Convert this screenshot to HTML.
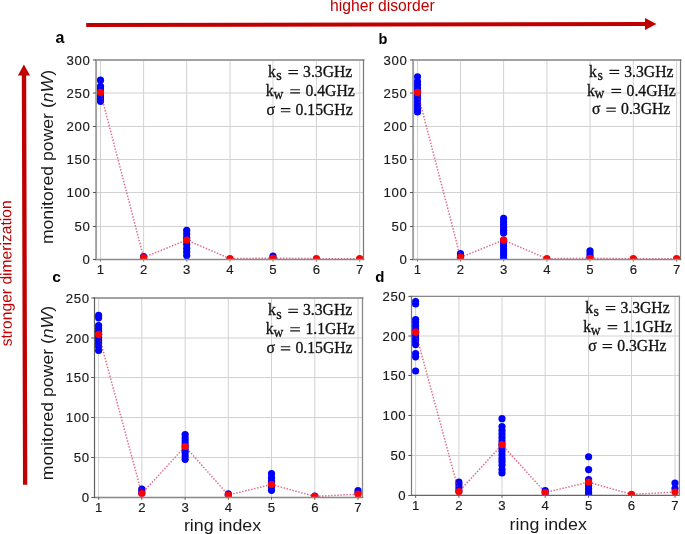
<!DOCTYPE html><html><head><meta charset="utf-8"><style>html,body{margin:0;padding:0;background:#fff;width:685px;height:534px;overflow:hidden}svg{display:block}#w{will-change:transform;width:685px;height:534px}</style></head><body><div id="w">
<svg width="685" height="534" viewBox="0 0 685 534">
<rect width="685" height="534" fill="#fff"/>
<defs>
<clipPath id="clipa"><rect x="96.1" y="60.0" width="267.40" height="199.45"/></clipPath>
<clipPath id="clipb"><rect x="413.1" y="60.0" width="267.40" height="199.45"/></clipPath>
<clipPath id="clipc"><rect x="94.5" y="298.0" width="268.00" height="199.45"/></clipPath>
<clipPath id="clipd"><rect x="411.5" y="296.4" width="267.90" height="199.05"/></clipPath>
</defs>
<path d="M100.50 60.0V259.45M143.60 60.0V259.45M186.70 60.0V259.45M230.00 60.0V259.45M273.00 60.0V259.45M316.40 60.0V259.45M359.70 60.0V259.45M96.1 259.50H363.5M96.1 226.50H363.5M96.1 192.50H363.5M96.1 159.50H363.5M96.1 126.50H363.5M96.1 93.00H363.5M96.1 60.00H363.5" stroke="#d2d2d2" stroke-width="1" fill="none"/>
<g clip-path="url(#clipa)">
<circle cx="100.50" cy="80.2" r="3.6" fill="#0000ff"/>
<circle cx="100.50" cy="86.3" r="3.6" fill="#0000ff"/>
<circle cx="100.50" cy="89" r="3.6" fill="#0000ff"/>
<circle cx="100.50" cy="91.5" r="3.6" fill="#0000ff"/>
<circle cx="100.50" cy="94" r="3.6" fill="#0000ff"/>
<circle cx="100.50" cy="97" r="3.6" fill="#0000ff"/>
<circle cx="100.50" cy="99" r="3.6" fill="#0000ff"/>
<circle cx="100.50" cy="101.3" r="3.6" fill="#0000ff"/>
<circle cx="143.60" cy="256.6" r="3.6" fill="#0000ff"/>
<circle cx="143.60" cy="258" r="3.6" fill="#0000ff"/>
<circle cx="186.70" cy="230.4" r="3.6" fill="#0000ff"/>
<circle cx="186.70" cy="234" r="3.6" fill="#0000ff"/>
<circle cx="186.70" cy="237.5" r="3.6" fill="#0000ff"/>
<circle cx="186.70" cy="240.5" r="3.6" fill="#0000ff"/>
<circle cx="186.70" cy="244.3" r="3.6" fill="#0000ff"/>
<circle cx="186.70" cy="248.3" r="3.6" fill="#0000ff"/>
<circle cx="186.70" cy="251.8" r="3.6" fill="#0000ff"/>
<circle cx="186.70" cy="255.4" r="3.6" fill="#0000ff"/>
<circle cx="230.00" cy="259.5" r="3.6" fill="#0000ff"/>
<circle cx="273.00" cy="256.0" r="3.6" fill="#0000ff"/>
<circle cx="273.00" cy="258.5" r="3.6" fill="#0000ff"/>
<circle cx="316.40" cy="259.5" r="3.6" fill="#0000ff"/>
<circle cx="359.70" cy="259.5" r="3.6" fill="#0000ff"/>
<polyline points="100.50,92.3 143.60,257.5 186.70,240.0 230.00,258.7 273.00,258.1 316.40,258.7 359.70,258.7" fill="none" stroke="#c81846" stroke-opacity="0.62" stroke-width="1.5" stroke-dasharray="1.5 1.55"/>
<circle cx="100.50" cy="92.3" r="3.6" fill="#ff0000"/>
<circle cx="143.60" cy="257.5" r="3.6" fill="#ff0000"/>
<circle cx="186.70" cy="240.0" r="3.6" fill="#ff0000"/>
<circle cx="230.00" cy="258.7" r="3.6" fill="#ff0000"/>
<circle cx="273.00" cy="258.1" r="3.6" fill="#ff0000"/>
<circle cx="316.40" cy="258.7" r="3.6" fill="#ff0000"/>
<circle cx="359.70" cy="258.7" r="3.6" fill="#ff0000"/>
</g>
<line x1="96.1" y1="60.0" x2="363.5" y2="60.0" stroke="#a2a2a2" stroke-width="2.0" stroke-linecap="square"/>
<line x1="96.1" y1="259.45" x2="363.5" y2="259.45" stroke="#8a8a8a" stroke-width="1.5" stroke-linecap="square"/>
<line x1="96.1" y1="60.0" x2="96.1" y2="259.45" stroke="#a0a0a0" stroke-width="1.9" stroke-linecap="square"/>
<line x1="363.5" y1="60.0" x2="363.5" y2="259.45" stroke="#777" stroke-width="1.2" stroke-linecap="square"/>
<path d="M96.1 259.50h-3.2M96.1 226.50h-3.2M96.1 192.50h-3.2M96.1 159.50h-3.2M96.1 126.50h-3.2M96.1 93.00h-3.2M96.1 60.00h-3.2" stroke="#555" stroke-width="1" fill="none"/>
<path d="M100.50 259.45v2.4M143.60 259.45v2.4M186.70 259.45v2.4M230.00 259.45v2.4M273.00 259.45v2.4M316.40 259.45v2.4M359.70 259.45v2.4" stroke="#8a8a8a" stroke-width="1.1" fill="none"/>
<g font-family='"Liberation Sans", sans-serif' font-size="13.2" fill="#1a1a1a" stroke="#1a1a1a" stroke-width="0.15">
<text x="90.40" y="264.30" text-anchor="end" letter-spacing="0.6">0</text>
<text x="90.40" y="231.30" text-anchor="end" letter-spacing="0.6">50</text>
<text x="90.40" y="197.30" text-anchor="end" letter-spacing="0.6">100</text>
<text x="90.40" y="164.30" text-anchor="end" letter-spacing="0.6">150</text>
<text x="90.40" y="131.30" text-anchor="end" letter-spacing="0.6">200</text>
<text x="90.40" y="97.80" text-anchor="end" letter-spacing="0.6">250</text>
<text x="90.40" y="64.80" text-anchor="end" letter-spacing="0.6">300</text>
<text x="100.50" y="274.05" text-anchor="middle">1</text>
<text x="143.60" y="274.05" text-anchor="middle">2</text>
<text x="186.70" y="274.05" text-anchor="middle">3</text>
<text x="230.00" y="274.05" text-anchor="middle">4</text>
<text x="273.00" y="274.05" text-anchor="middle">5</text>
<text x="316.40" y="274.05" text-anchor="middle">6</text>
<text x="359.70" y="274.05" text-anchor="middle">7</text>
</g>
<text x="55.6" y="42.6" font-family='"Liberation Sans", sans-serif' font-weight="bold" font-size="16.0" fill="#000">a</text>
<text transform="translate(53.2,157.05) rotate(-90)" text-anchor="middle" font-family='"Liberation Sans", sans-serif' font-size="16" fill="#1a1a1a" textLength="174.1" lengthAdjust="spacingAndGlyphs">monitored power (<tspan font-style="italic">nW</tspan>)</text>
<text x="267.95" y="76.70" font-family='"Liberation Serif", serif' font-size="15.7" fill="#111" stroke="#111" stroke-width="0.3">k</text><text x="276.25" y="80.00" font-family='"Liberation Serif", serif' font-size="14" fill="#111" stroke="#111" stroke-width="0.3">s</text><rect x="288.25" y="69.95" width="9.9" height="1.15" rx="0.5" fill="#141414"/><rect x="288.25" y="73.05" width="9.9" height="1.15" rx="0.5" fill="#141414"/><text x="303.05" y="76.70" font-family='"Liberation Serif", serif' font-size="15.7" fill="#111" stroke="#111" stroke-width="0.3">3.3GHz</text>
<text x="265.85" y="95.90" font-family='"Liberation Serif", serif' font-size="15.7" fill="#111" stroke="#111" stroke-width="0.3">k</text><text x="273.45" y="98.60" font-family='"Liberation Serif", serif' font-size="13.6" fill="#111" stroke="#111" stroke-width="0.3">w</text><rect x="290.15" y="89.15" width="9.9" height="1.15" rx="0.5" fill="#141414"/><rect x="290.15" y="92.25" width="9.9" height="1.15" rx="0.5" fill="#141414"/><text x="305.45" y="95.90" font-family='"Liberation Serif", serif' font-size="15.7" fill="#111" stroke="#111" stroke-width="0.3">0.4GHz</text>
<text x="266.55" y="114.80" font-family='"Liberation Serif", serif' font-size="15.7" fill="#111" stroke="#111" stroke-width="0.3">&#963;</text><rect x="280.75" y="108.05" width="9.7" height="1.15" rx="0.5" fill="#141414"/><rect x="280.75" y="111.15" width="9.7" height="1.15" rx="0.5" fill="#141414"/><text x="295.55" y="114.80" font-family='"Liberation Serif", serif' font-size="15.7" fill="#111" stroke="#111" stroke-width="0.3">0.15GHz</text>
<path d="M417.50 60.0V259.45M460.50 60.0V259.45M503.60 60.0V259.45M546.90 60.0V259.45M590.00 60.0V259.45M633.30 60.0V259.45M676.60 60.0V259.45M413.1 259.50H680.5M413.1 226.50H680.5M413.1 192.50H680.5M413.1 159.50H680.5M413.1 126.50H680.5M413.1 93.00H680.5M413.1 60.00H680.5" stroke="#d2d2d2" stroke-width="1" fill="none"/>
<g clip-path="url(#clipb)">
<circle cx="417.50" cy="76.8" r="3.6" fill="#0000ff"/>
<circle cx="417.50" cy="81.5" r="3.6" fill="#0000ff"/>
<circle cx="417.50" cy="84.5" r="3.6" fill="#0000ff"/>
<circle cx="417.50" cy="88" r="3.6" fill="#0000ff"/>
<circle cx="417.50" cy="91.5" r="3.6" fill="#0000ff"/>
<circle cx="417.50" cy="95" r="3.6" fill="#0000ff"/>
<circle cx="417.50" cy="98.5" r="3.6" fill="#0000ff"/>
<circle cx="417.50" cy="102" r="3.6" fill="#0000ff"/>
<circle cx="417.50" cy="105.5" r="3.6" fill="#0000ff"/>
<circle cx="417.50" cy="109" r="3.6" fill="#0000ff"/>
<circle cx="417.50" cy="112" r="3.6" fill="#0000ff"/>
<circle cx="460.50" cy="253.7" r="3.6" fill="#0000ff"/>
<circle cx="460.50" cy="256" r="3.6" fill="#0000ff"/>
<circle cx="460.50" cy="258" r="3.6" fill="#0000ff"/>
<circle cx="503.60" cy="218.4" r="3.6" fill="#0000ff"/>
<circle cx="503.60" cy="221.5" r="3.6" fill="#0000ff"/>
<circle cx="503.60" cy="224.5" r="3.6" fill="#0000ff"/>
<circle cx="503.60" cy="227.5" r="3.6" fill="#0000ff"/>
<circle cx="503.60" cy="230.5" r="3.6" fill="#0000ff"/>
<circle cx="503.60" cy="233" r="3.6" fill="#0000ff"/>
<circle cx="503.60" cy="240" r="3.6" fill="#0000ff"/>
<circle cx="503.60" cy="243" r="3.6" fill="#0000ff"/>
<circle cx="503.60" cy="246" r="3.6" fill="#0000ff"/>
<circle cx="503.60" cy="249" r="3.6" fill="#0000ff"/>
<circle cx="503.60" cy="252" r="3.6" fill="#0000ff"/>
<circle cx="503.60" cy="255" r="3.6" fill="#0000ff"/>
<circle cx="503.60" cy="258" r="3.6" fill="#0000ff"/>
<circle cx="503.60" cy="260.5" r="3.6" fill="#0000ff"/>
<circle cx="546.90" cy="259.5" r="3.6" fill="#0000ff"/>
<circle cx="590.00" cy="250.8" r="3.6" fill="#0000ff"/>
<circle cx="590.00" cy="254" r="3.6" fill="#0000ff"/>
<circle cx="590.00" cy="257" r="3.6" fill="#0000ff"/>
<circle cx="633.30" cy="259.5" r="3.6" fill="#0000ff"/>
<circle cx="676.60" cy="259.5" r="3.6" fill="#0000ff"/>
<polyline points="417.50,92.4 460.50,257.3 503.60,240.1 546.90,258.7 590.00,258.3 633.30,258.7 676.60,258.7" fill="none" stroke="#c81846" stroke-opacity="0.62" stroke-width="1.5" stroke-dasharray="1.5 1.55"/>
<circle cx="417.50" cy="92.4" r="3.6" fill="#ff0000"/>
<circle cx="460.50" cy="257.3" r="3.6" fill="#ff0000"/>
<circle cx="503.60" cy="240.1" r="3.6" fill="#ff0000"/>
<circle cx="546.90" cy="258.7" r="3.6" fill="#ff0000"/>
<circle cx="590.00" cy="258.3" r="3.6" fill="#ff0000"/>
<circle cx="633.30" cy="258.7" r="3.6" fill="#ff0000"/>
<circle cx="676.60" cy="258.7" r="3.6" fill="#ff0000"/>
</g>
<line x1="413.1" y1="60.0" x2="680.5" y2="60.0" stroke="#a2a2a2" stroke-width="2.0" stroke-linecap="square"/>
<line x1="413.1" y1="259.45" x2="680.5" y2="259.45" stroke="#8a8a8a" stroke-width="1.5" stroke-linecap="square"/>
<line x1="413.1" y1="60.0" x2="413.1" y2="259.45" stroke="#a0a0a0" stroke-width="1.9" stroke-linecap="square"/>
<line x1="680.5" y1="60.0" x2="680.5" y2="259.45" stroke="#777" stroke-width="1.2" stroke-linecap="square"/>
<path d="M413.1 259.50h-3.2M413.1 226.50h-3.2M413.1 192.50h-3.2M413.1 159.50h-3.2M413.1 126.50h-3.2M413.1 93.00h-3.2M413.1 60.00h-3.2" stroke="#555" stroke-width="1" fill="none"/>
<path d="M417.50 259.45v2.4M460.50 259.45v2.4M503.60 259.45v2.4M546.90 259.45v2.4M590.00 259.45v2.4M633.30 259.45v2.4M676.60 259.45v2.4" stroke="#8a8a8a" stroke-width="1.1" fill="none"/>
<g font-family='"Liberation Sans", sans-serif' font-size="13.2" fill="#1a1a1a" stroke="#1a1a1a" stroke-width="0.15">
<text x="407.40" y="264.30" text-anchor="end" letter-spacing="0.6">0</text>
<text x="407.40" y="231.30" text-anchor="end" letter-spacing="0.6">50</text>
<text x="407.40" y="197.30" text-anchor="end" letter-spacing="0.6">100</text>
<text x="407.40" y="164.30" text-anchor="end" letter-spacing="0.6">150</text>
<text x="407.40" y="131.30" text-anchor="end" letter-spacing="0.6">200</text>
<text x="407.40" y="97.80" text-anchor="end" letter-spacing="0.6">250</text>
<text x="407.40" y="64.80" text-anchor="end" letter-spacing="0.6">300</text>
<text x="417.50" y="274.05" text-anchor="middle">1</text>
<text x="460.50" y="274.05" text-anchor="middle">2</text>
<text x="503.60" y="274.05" text-anchor="middle">3</text>
<text x="546.90" y="274.05" text-anchor="middle">4</text>
<text x="590.00" y="274.05" text-anchor="middle">5</text>
<text x="633.30" y="274.05" text-anchor="middle">6</text>
<text x="676.60" y="274.05" text-anchor="middle">7</text>
</g>
<text x="378.6" y="43.7" font-family='"Liberation Sans", sans-serif' font-weight="bold" font-size="14.5" fill="#000">b</text>
<text x="589.10" y="76.60" font-family='"Liberation Serif", serif' font-size="15.7" fill="#111" stroke="#111" stroke-width="0.3">k</text><text x="597.40" y="79.90" font-family='"Liberation Serif", serif' font-size="14" fill="#111" stroke="#111" stroke-width="0.3">s</text><rect x="609.40" y="69.85" width="9.9" height="1.15" rx="0.5" fill="#141414"/><rect x="609.40" y="72.95" width="9.9" height="1.15" rx="0.5" fill="#141414"/><text x="624.20" y="76.60" font-family='"Liberation Serif", serif' font-size="15.7" fill="#111" stroke="#111" stroke-width="0.3">3.3GHz</text>
<text x="587.00" y="95.60" font-family='"Liberation Serif", serif' font-size="15.7" fill="#111" stroke="#111" stroke-width="0.3">k</text><text x="594.60" y="98.30" font-family='"Liberation Serif", serif' font-size="13.6" fill="#111" stroke="#111" stroke-width="0.3">w</text><rect x="611.30" y="88.85" width="9.9" height="1.15" rx="0.5" fill="#141414"/><rect x="611.30" y="91.95" width="9.9" height="1.15" rx="0.5" fill="#141414"/><text x="626.60" y="95.60" font-family='"Liberation Serif", serif' font-size="15.7" fill="#111" stroke="#111" stroke-width="0.3">0.4GHz</text>
<text x="592.05" y="114.30" font-family='"Liberation Serif", serif' font-size="15.7" fill="#111" stroke="#111" stroke-width="0.3">&#963;</text><rect x="606.25" y="107.55" width="9.7" height="1.15" rx="0.5" fill="#141414"/><rect x="606.25" y="110.65" width="9.7" height="1.15" rx="0.5" fill="#141414"/><text x="621.05" y="114.30" font-family='"Liberation Serif", serif' font-size="15.7" fill="#111" stroke="#111" stroke-width="0.3">0.3GHz</text>
<path d="M98.60 298.0V497.45M141.80 298.0V497.45M185.15 298.0V497.45M228.30 298.0V497.45M271.50 298.0V497.45M314.80 298.0V497.45M358.00 298.0V497.45M94.5 497.45H362.5M94.5 457.50H362.5M94.5 417.50H362.5M94.5 377.50H362.5M94.5 338.00H362.5M94.5 298.00H362.5" stroke="#d2d2d2" stroke-width="1" fill="none"/>
<g clip-path="url(#clipc)">
<circle cx="98.60" cy="315.4" r="3.6" fill="#0000ff"/>
<circle cx="98.60" cy="317.8" r="3.6" fill="#0000ff"/>
<circle cx="98.60" cy="325.6" r="3.6" fill="#0000ff"/>
<circle cx="98.60" cy="328.5" r="3.6" fill="#0000ff"/>
<circle cx="98.60" cy="331.5" r="3.6" fill="#0000ff"/>
<circle cx="98.60" cy="334.5" r="3.6" fill="#0000ff"/>
<circle cx="98.60" cy="337.5" r="3.6" fill="#0000ff"/>
<circle cx="98.60" cy="340.5" r="3.6" fill="#0000ff"/>
<circle cx="98.60" cy="343.5" r="3.6" fill="#0000ff"/>
<circle cx="98.60" cy="346.5" r="3.6" fill="#0000ff"/>
<circle cx="98.60" cy="350.5" r="3.6" fill="#0000ff"/>
<circle cx="141.80" cy="489" r="3.6" fill="#0000ff"/>
<circle cx="141.80" cy="491" r="3.6" fill="#0000ff"/>
<circle cx="141.80" cy="493" r="3.6" fill="#0000ff"/>
<circle cx="185.15" cy="434.5" r="3.6" fill="#0000ff"/>
<circle cx="185.15" cy="438" r="3.6" fill="#0000ff"/>
<circle cx="185.15" cy="441" r="3.6" fill="#0000ff"/>
<circle cx="185.15" cy="444" r="3.6" fill="#0000ff"/>
<circle cx="185.15" cy="447" r="3.6" fill="#0000ff"/>
<circle cx="185.15" cy="450" r="3.6" fill="#0000ff"/>
<circle cx="185.15" cy="452.5" r="3.6" fill="#0000ff"/>
<circle cx="185.15" cy="456" r="3.6" fill="#0000ff"/>
<circle cx="185.15" cy="459.3" r="3.6" fill="#0000ff"/>
<circle cx="228.30" cy="493.9" r="3.6" fill="#0000ff"/>
<circle cx="228.30" cy="495" r="3.6" fill="#0000ff"/>
<circle cx="271.50" cy="473.7" r="3.6" fill="#0000ff"/>
<circle cx="271.50" cy="477.8" r="3.6" fill="#0000ff"/>
<circle cx="271.50" cy="481" r="3.6" fill="#0000ff"/>
<circle cx="271.50" cy="484" r="3.6" fill="#0000ff"/>
<circle cx="271.50" cy="487" r="3.6" fill="#0000ff"/>
<circle cx="271.50" cy="490.3" r="3.6" fill="#0000ff"/>
<circle cx="314.80" cy="496" r="3.6" fill="#0000ff"/>
<circle cx="358.00" cy="490.7" r="3.6" fill="#0000ff"/>
<circle cx="358.00" cy="493" r="3.6" fill="#0000ff"/>
<polyline points="98.60,334.3 141.80,493.5 185.15,446.5 228.30,495.0 271.50,484.5 314.80,496.4 358.00,494.2" fill="none" stroke="#c81846" stroke-opacity="0.62" stroke-width="1.5" stroke-dasharray="1.5 1.55"/>
<circle cx="98.60" cy="334.3" r="3.6" fill="#ff0000"/>
<circle cx="141.80" cy="493.5" r="3.6" fill="#ff0000"/>
<circle cx="185.15" cy="446.5" r="3.6" fill="#ff0000"/>
<circle cx="228.30" cy="495.0" r="3.6" fill="#ff0000"/>
<circle cx="271.50" cy="484.5" r="3.6" fill="#ff0000"/>
<circle cx="314.80" cy="496.4" r="3.6" fill="#ff0000"/>
<circle cx="358.00" cy="494.2" r="3.6" fill="#ff0000"/>
</g>
<line x1="94.5" y1="298.0" x2="362.5" y2="298.0" stroke="#a2a2a2" stroke-width="2.0" stroke-linecap="square"/>
<line x1="94.5" y1="497.45" x2="362.5" y2="497.45" stroke="#888" stroke-width="1.5" stroke-linecap="square"/>
<line x1="94.5" y1="298.0" x2="94.5" y2="497.45" stroke="#606060" stroke-width="1.2" stroke-linecap="square"/>
<line x1="362.5" y1="298.0" x2="362.5" y2="497.45" stroke="#888" stroke-width="1.3" stroke-linecap="square"/>
<path d="M94.5 497.45h-3.2M94.5 457.50h-3.2M94.5 417.50h-3.2M94.5 377.50h-3.2M94.5 338.00h-3.2M94.5 298.00h-3.2" stroke="#555" stroke-width="1" fill="none"/>
<path d="M98.60 497.45v2.4M141.80 497.45v2.4M185.15 497.45v2.4M228.30 497.45v2.4M271.50 497.45v2.4M314.80 497.45v2.4M358.00 497.45v2.4" stroke="#666" stroke-width="1.1" fill="none"/>
<g font-family='"Liberation Sans", sans-serif' font-size="13.2" fill="#1a1a1a" stroke="#1a1a1a" stroke-width="0.15">
<text x="89.60" y="502.25" text-anchor="end" letter-spacing="0.6">0</text>
<text x="89.60" y="462.30" text-anchor="end" letter-spacing="0.6">50</text>
<text x="89.60" y="422.30" text-anchor="end" letter-spacing="0.6">100</text>
<text x="89.60" y="382.30" text-anchor="end" letter-spacing="0.6">150</text>
<text x="89.60" y="342.80" text-anchor="end" letter-spacing="0.6">200</text>
<text x="89.60" y="302.80" text-anchor="end" letter-spacing="0.6">250</text>
<text x="98.60" y="512.05" text-anchor="middle">1</text>
<text x="141.80" y="512.05" text-anchor="middle">2</text>
<text x="185.15" y="512.05" text-anchor="middle">3</text>
<text x="228.30" y="512.05" text-anchor="middle">4</text>
<text x="271.50" y="512.05" text-anchor="middle">5</text>
<text x="314.80" y="512.05" text-anchor="middle">6</text>
<text x="358.00" y="512.05" text-anchor="middle">7</text>
</g>
<text x="52.3" y="281.9" font-family='"Liberation Sans", sans-serif' font-weight="bold" font-size="15.5" fill="#000">c</text>
<text transform="translate(53.0,393.05) rotate(-90)" text-anchor="middle" font-family='"Liberation Sans", sans-serif' font-size="16" fill="#1a1a1a" textLength="174.3" lengthAdjust="spacingAndGlyphs">monitored power (<tspan font-style="italic">nW</tspan>)</text>
<text x="222.55" y="530.8" text-anchor="middle" font-family='"Liberation Sans", sans-serif' font-size="16.8" fill="#1a1a1a" textLength="77.3" lengthAdjust="spacingAndGlyphs">ring index</text>
<text x="267.90" y="315.40" font-family='"Liberation Serif", serif' font-size="15.7" fill="#111" stroke="#111" stroke-width="0.3">k</text><text x="276.20" y="318.70" font-family='"Liberation Serif", serif' font-size="14" fill="#111" stroke="#111" stroke-width="0.3">s</text><rect x="288.20" y="308.65" width="9.9" height="1.15" rx="0.5" fill="#141414"/><rect x="288.20" y="311.75" width="9.9" height="1.15" rx="0.5" fill="#141414"/><text x="303.00" y="315.40" font-family='"Liberation Serif", serif' font-size="15.7" fill="#111" stroke="#111" stroke-width="0.3">3.3GHz</text>
<text x="265.80" y="333.90" font-family='"Liberation Serif", serif' font-size="15.7" fill="#111" stroke="#111" stroke-width="0.3">k</text><text x="273.40" y="336.60" font-family='"Liberation Serif", serif' font-size="13.6" fill="#111" stroke="#111" stroke-width="0.3">w</text><rect x="290.10" y="327.15" width="9.9" height="1.15" rx="0.5" fill="#141414"/><rect x="290.10" y="330.25" width="9.9" height="1.15" rx="0.5" fill="#141414"/><text x="305.40" y="333.90" font-family='"Liberation Serif", serif' font-size="15.7" fill="#111" stroke="#111" stroke-width="0.3">1.1GHz</text>
<text x="266.50" y="352.90" font-family='"Liberation Serif", serif' font-size="15.7" fill="#111" stroke="#111" stroke-width="0.3">&#963;</text><rect x="280.70" y="346.15" width="9.7" height="1.15" rx="0.5" fill="#141414"/><rect x="280.70" y="349.25" width="9.7" height="1.15" rx="0.5" fill="#141414"/><text x="295.50" y="352.90" font-family='"Liberation Serif", serif' font-size="15.7" fill="#111" stroke="#111" stroke-width="0.3">0.15GHz</text>
<path d="M415.60 296.4V495.45M458.90 296.4V495.45M502.00 296.4V495.45M545.20 296.4V495.45M588.60 296.4V495.45M631.50 296.4V495.45M675.00 296.4V495.45M411.5 495.45H679.4M411.5 455.50H679.4M411.5 415.50H679.4M411.5 375.50H679.4M411.5 336.00H679.4M411.5 296.40H679.4" stroke="#d2d2d2" stroke-width="1" fill="none"/>
<g clip-path="url(#clipd)">
<circle cx="415.60" cy="301.5" r="3.6" fill="#0000ff"/>
<circle cx="415.60" cy="304" r="3.6" fill="#0000ff"/>
<circle cx="415.60" cy="319.5" r="3.6" fill="#0000ff"/>
<circle cx="415.60" cy="322.5" r="3.6" fill="#0000ff"/>
<circle cx="415.60" cy="326" r="3.6" fill="#0000ff"/>
<circle cx="415.60" cy="329.5" r="3.6" fill="#0000ff"/>
<circle cx="415.60" cy="332" r="3.6" fill="#0000ff"/>
<circle cx="415.60" cy="335.5" r="3.6" fill="#0000ff"/>
<circle cx="415.60" cy="339" r="3.6" fill="#0000ff"/>
<circle cx="415.60" cy="341.5" r="3.6" fill="#0000ff"/>
<circle cx="415.60" cy="344.6" r="3.6" fill="#0000ff"/>
<circle cx="415.60" cy="353.5" r="3.6" fill="#0000ff"/>
<circle cx="415.60" cy="356.8" r="3.6" fill="#0000ff"/>
<circle cx="415.60" cy="371" r="3.6" fill="#0000ff"/>
<circle cx="458.90" cy="482.2" r="3.6" fill="#0000ff"/>
<circle cx="458.90" cy="485" r="3.6" fill="#0000ff"/>
<circle cx="458.90" cy="488" r="3.6" fill="#0000ff"/>
<circle cx="458.90" cy="491" r="3.6" fill="#0000ff"/>
<circle cx="502.00" cy="418.65" r="3.6" fill="#0000ff"/>
<circle cx="502.00" cy="426.6" r="3.6" fill="#0000ff"/>
<circle cx="502.00" cy="430.5" r="3.6" fill="#0000ff"/>
<circle cx="502.00" cy="434" r="3.6" fill="#0000ff"/>
<circle cx="502.00" cy="437.5" r="3.6" fill="#0000ff"/>
<circle cx="502.00" cy="441" r="3.6" fill="#0000ff"/>
<circle cx="502.00" cy="444.5" r="3.6" fill="#0000ff"/>
<circle cx="502.00" cy="448" r="3.6" fill="#0000ff"/>
<circle cx="502.00" cy="451.5" r="3.6" fill="#0000ff"/>
<circle cx="502.00" cy="455" r="3.6" fill="#0000ff"/>
<circle cx="502.00" cy="458.5" r="3.6" fill="#0000ff"/>
<circle cx="502.00" cy="461.5" r="3.6" fill="#0000ff"/>
<circle cx="502.00" cy="465" r="3.6" fill="#0000ff"/>
<circle cx="502.00" cy="469.5" r="3.6" fill="#0000ff"/>
<circle cx="502.00" cy="473" r="3.6" fill="#0000ff"/>
<circle cx="545.20" cy="490.5" r="3.6" fill="#0000ff"/>
<circle cx="545.20" cy="493" r="3.6" fill="#0000ff"/>
<circle cx="588.60" cy="456.75" r="3.6" fill="#0000ff"/>
<circle cx="588.60" cy="469.6" r="3.6" fill="#0000ff"/>
<circle cx="588.60" cy="479.7" r="3.6" fill="#0000ff"/>
<circle cx="588.60" cy="483" r="3.6" fill="#0000ff"/>
<circle cx="588.60" cy="486" r="3.6" fill="#0000ff"/>
<circle cx="588.60" cy="489" r="3.6" fill="#0000ff"/>
<circle cx="588.60" cy="492" r="3.6" fill="#0000ff"/>
<circle cx="588.60" cy="494.5" r="3.6" fill="#0000ff"/>
<circle cx="631.50" cy="495" r="3.6" fill="#0000ff"/>
<circle cx="675.00" cy="483" r="3.6" fill="#0000ff"/>
<circle cx="675.00" cy="488.5" r="3.6" fill="#0000ff"/>
<polyline points="415.60,332.2 458.90,491.7 502.00,444.7 545.20,492.5 588.60,482.2 631.50,494.4 675.00,492.0" fill="none" stroke="#c81846" stroke-opacity="0.62" stroke-width="1.5" stroke-dasharray="1.5 1.55"/>
<circle cx="415.60" cy="332.2" r="3.6" fill="#ff0000"/>
<circle cx="458.90" cy="491.7" r="3.6" fill="#ff0000"/>
<circle cx="502.00" cy="444.7" r="3.6" fill="#ff0000"/>
<circle cx="545.20" cy="492.5" r="3.6" fill="#ff0000"/>
<circle cx="588.60" cy="482.2" r="3.6" fill="#ff0000"/>
<circle cx="631.50" cy="494.4" r="3.6" fill="#ff0000"/>
<circle cx="675.00" cy="492.0" r="3.6" fill="#ff0000"/>
</g>
<line x1="411.5" y1="296.4" x2="679.4" y2="296.4" stroke="#888" stroke-width="1.4" stroke-linecap="square"/>
<line x1="411.5" y1="495.45" x2="679.4" y2="495.45" stroke="#666" stroke-width="1.3" stroke-linecap="square"/>
<line x1="411.5" y1="296.4" x2="411.5" y2="495.45" stroke="#777" stroke-width="1.2" stroke-linecap="square"/>
<line x1="679.4" y1="296.4" x2="679.4" y2="495.45" stroke="#8c8c8c" stroke-width="1.3" stroke-linecap="square"/>
<path d="M411.5 495.45h-3.2M411.5 455.50h-3.2M411.5 415.50h-3.2M411.5 375.50h-3.2M411.5 336.00h-3.2M411.5 296.40h-3.2" stroke="#555" stroke-width="1" fill="none"/>
<path d="M415.60 495.45v2.4M458.90 495.45v2.4M502.00 495.45v2.4M545.20 495.45v2.4M588.60 495.45v2.4M631.50 495.45v2.4M675.00 495.45v2.4" stroke="#666" stroke-width="1.1" fill="none"/>
<g font-family='"Liberation Sans", sans-serif' font-size="13.2" fill="#1a1a1a" stroke="#1a1a1a" stroke-width="0.15">
<text x="406.30" y="500.25" text-anchor="end" letter-spacing="0.6">0</text>
<text x="406.30" y="460.30" text-anchor="end" letter-spacing="0.6">50</text>
<text x="406.30" y="420.30" text-anchor="end" letter-spacing="0.6">100</text>
<text x="406.30" y="380.30" text-anchor="end" letter-spacing="0.6">150</text>
<text x="406.30" y="340.80" text-anchor="end" letter-spacing="0.6">200</text>
<text x="406.30" y="301.20" text-anchor="end" letter-spacing="0.6">250</text>
<text x="415.60" y="510.05" text-anchor="middle">1</text>
<text x="458.90" y="510.05" text-anchor="middle">2</text>
<text x="502.00" y="510.05" text-anchor="middle">3</text>
<text x="545.20" y="510.05" text-anchor="middle">4</text>
<text x="588.60" y="510.05" text-anchor="middle">5</text>
<text x="631.50" y="510.05" text-anchor="middle">6</text>
<text x="675.00" y="510.05" text-anchor="middle">7</text>
</g>
<text x="375.3" y="281.5" font-family='"Liberation Sans", sans-serif' font-weight="bold" font-size="15.0" fill="#000">d</text>
<text x="548.20" y="530.3" text-anchor="middle" font-family='"Liberation Sans", sans-serif' font-size="16.8" fill="#1a1a1a" textLength="77.2" lengthAdjust="spacingAndGlyphs">ring index</text>
<text x="585.30" y="312.70" font-family='"Liberation Serif", serif' font-size="15.7" fill="#111" stroke="#111" stroke-width="0.3">k</text><text x="593.60" y="316.00" font-family='"Liberation Serif", serif' font-size="14" fill="#111" stroke="#111" stroke-width="0.3">s</text><rect x="605.60" y="305.95" width="9.9" height="1.15" rx="0.5" fill="#141414"/><rect x="605.60" y="309.05" width="9.9" height="1.15" rx="0.5" fill="#141414"/><text x="620.40" y="312.70" font-family='"Liberation Serif", serif' font-size="15.7" fill="#111" stroke="#111" stroke-width="0.3">3.3GHz</text>
<text x="583.20" y="331.80" font-family='"Liberation Serif", serif' font-size="15.7" fill="#111" stroke="#111" stroke-width="0.3">k</text><text x="590.80" y="334.50" font-family='"Liberation Serif", serif' font-size="13.6" fill="#111" stroke="#111" stroke-width="0.3">w</text><rect x="607.50" y="325.05" width="9.9" height="1.15" rx="0.5" fill="#141414"/><rect x="607.50" y="328.15" width="9.9" height="1.15" rx="0.5" fill="#141414"/><text x="622.80" y="331.80" font-family='"Liberation Serif", serif' font-size="15.7" fill="#111" stroke="#111" stroke-width="0.3">1.1GHz</text>
<text x="588.25" y="350.70" font-family='"Liberation Serif", serif' font-size="15.7" fill="#111" stroke="#111" stroke-width="0.3">&#963;</text><rect x="602.45" y="343.95" width="9.7" height="1.15" rx="0.5" fill="#141414"/><rect x="602.45" y="347.05" width="9.7" height="1.15" rx="0.5" fill="#141414"/><text x="617.25" y="350.70" font-family='"Liberation Serif", serif' font-size="15.7" fill="#111" stroke="#111" stroke-width="0.3">0.3GHz</text>
<polygon points="86.2,23.0 645,22.1 645,18.0 656.5,23.9 645,30.0 645,26.1 86.2,27.0" fill="#c00000"/>
<text x="330.0" y="10.9" font-family='"Liberation Sans", sans-serif' font-size="15.7" fill="#c00000">higher disorder</text>
<polygon points="23.9,64.4 30.1,75.6 26.2,75.6 27.3,484.7 23.0,484.7 21.8,75.6 17.9,75.6" fill="#c00000"/>
<text transform="translate(11.75,346.3) rotate(-90.24)" font-family='"Liberation Sans", sans-serif' font-size="15.65" fill="#c00000">stronger dimerization</text>
</svg></div></body></html>
